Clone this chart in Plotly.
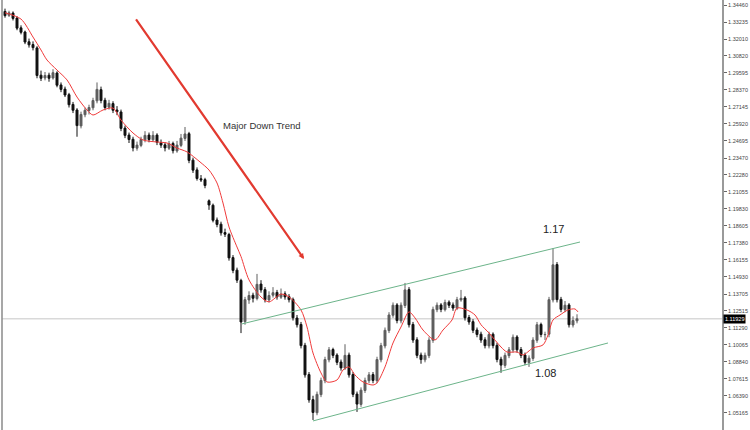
import plotly.graph_objects as go

# ---------------- data ----------------
bar_index = list(range(144))

opens = [1.3400, 1.3372, 1.3388, 1.3352, 1.3282, 1.3252, 1.3182, 1.3162, 1.3138, 1.2942,
         1.2922, 1.2942, 1.2922, 1.2958, 1.2872, 1.2842, 1.2802, 1.2732, 1.2692, 1.2578,
         1.2658, 1.2688, 1.2708, 1.2758, 1.2838, 1.2762, 1.2712, 1.2738, 1.2692, 1.2678,
         1.2562, 1.2512, 1.2482, 1.2418, 1.2438, 1.2478, 1.2512, 1.2478, 1.2512, 1.2458,
         1.2442, 1.2418, 1.2452, 1.2398, 1.2438, 1.2488, 1.2522, 1.2332, 1.2262, 1.2198,
         1.2192, 1.2040, 1.2008, 1.1902, 1.1872, 1.1812, 1.1798, 1.1632, 1.1542, 1.1468,
         1.1172, 1.1328, 1.1362, 1.1338, 1.1442, 1.1402, 1.1328, 1.1362, 1.1382, 1.1348,
         1.1372, 1.1352, 1.1332, 1.1198, 1.1152, 1.1002, 1.0792, 1.0612, 1.0518, 1.0648,
         1.0748, 1.0898, 1.0972, 1.0932, 1.0882, 1.0838, 1.0932, 1.0792, 1.0652, 1.0578,
         1.0678, 1.0748, 1.0792, 1.0748, 1.0898, 1.0998, 1.1108, 1.1218, 1.1292, 1.1178,
         1.1288, 1.1402, 1.1152, 1.1042, 1.0932, 1.0898, 1.0928, 1.1038, 1.1258, 1.1292,
         1.1258, 1.1312, 1.1292, 1.1268, 1.1328, 1.1342, 1.1202, 1.1172, 1.1112, 1.1082,
         1.1042, 1.0998, 1.1082, 1.1002, 1.0902, 1.0858, 1.0928, 1.0968, 1.1062, 1.0972,
         1.0932, 1.0878, 1.0908, 1.1038, 1.1152, 1.1078, 1.1082, 1.1328, 1.1582, 1.1332,
         1.1258, 1.1292, 1.1148, 1.1178]

highs = [1.3420, 1.3405, 1.3400, 1.3365, 1.3300, 1.3262, 1.3205, 1.3185, 1.3150, 1.2975,
         1.2965, 1.2960, 1.2985, 1.2970, 1.2890, 1.2860, 1.2815, 1.2750, 1.2705, 1.2680,
         1.2710, 1.2730, 1.2780, 1.2890, 1.2860, 1.2780, 1.2765, 1.2755, 1.2720, 1.2695,
         1.2580, 1.2530, 1.2500, 1.2465, 1.2500, 1.2540, 1.2530, 1.2540, 1.2525, 1.2480,
         1.2460, 1.2470, 1.2465, 1.2470, 1.2520, 1.2570, 1.2535, 1.2350, 1.2280, 1.2225,
         1.2205, 1.2050, 1.2020, 1.1920, 1.1890, 1.1840, 1.1810, 1.1650, 1.1560, 1.1480,
         1.1350, 1.1390, 1.1380, 1.1515, 1.1470, 1.1420, 1.1390, 1.1420, 1.1400, 1.1410,
         1.1390, 1.1370, 1.1345, 1.1220, 1.1170, 1.1020, 1.0810, 1.0640, 1.0670, 1.0770,
         1.0920, 1.0990, 1.0985, 1.0945, 1.0900, 1.1010, 1.0950, 1.0810, 1.0670, 1.0700,
         1.0770, 1.0810, 1.0810, 1.0920, 1.1020, 1.1130, 1.1240, 1.1310, 1.1305, 1.1310,
         1.1450, 1.1420, 1.1170, 1.1060, 1.0950, 1.0950, 1.1060, 1.1280, 1.1310, 1.1305,
         1.1330, 1.1325, 1.1310, 1.1350, 1.1400, 1.1355, 1.1220, 1.1190, 1.1130, 1.1100,
         1.1060, 1.1100, 1.1095, 1.1020, 1.0920, 1.0950, 1.0990, 1.1080, 1.1075, 1.0990,
         1.0950, 1.0930, 1.1060, 1.1170, 1.1165, 1.1100, 1.1350, 1.1700, 1.1600, 1.1350,
         1.1320, 1.1305, 1.1210, 1.1225]

lows = [1.3355, 1.3360, 1.3335, 1.3265, 1.3235, 1.3165, 1.3140, 1.3120, 1.2920, 1.2900,
        1.2905, 1.2895, 1.2910, 1.2855, 1.2820, 1.2785, 1.2710, 1.2670, 1.2500, 1.2560,
        1.2640, 1.2660, 1.2690, 1.2740, 1.2740, 1.2690, 1.2695, 1.2670, 1.2655, 1.2540,
        1.2490, 1.2455, 1.2395, 1.2400, 1.2425, 1.2460, 1.2460, 1.2465, 1.2440, 1.2420,
        1.2395, 1.2405, 1.2380, 1.2385, 1.2425, 1.2470, 1.2310, 1.2240, 1.2185, 1.2175,
        1.2130, 1.1975, 1.1885, 1.1850, 1.1790, 1.1780, 1.1610, 1.1520, 1.1450, 1.1090,
        1.1150, 1.1300, 1.1310, 1.1325, 1.1380, 1.1310, 1.1310, 1.1345, 1.1330, 1.1335,
        1.1330, 1.1310, 1.1180, 1.1130, 1.0980, 1.0770, 1.0590, 1.0466, 1.0500, 1.0630,
        1.0730, 1.0880, 1.0910, 1.0860, 1.0820, 1.0825, 1.0770, 1.0630, 1.0524, 1.0560,
        1.0660, 1.0730, 1.0730, 1.0730, 1.0880, 1.0980, 1.1090, 1.1200, 1.1160, 1.1160,
        1.1270, 1.1130, 1.1020, 1.0910, 1.0870, 1.0880, 1.0910, 1.1020, 1.1240, 1.1240,
        1.1245, 1.1270, 1.1250, 1.1255, 1.1315, 1.1180, 1.1150, 1.1090, 1.1060, 1.1020,
        1.0980, 1.0980, 1.0980, 1.0880, 1.0805, 1.0840, 1.0910, 1.0950, 1.0950, 1.0910,
        1.0860, 1.0847, 1.0890, 1.1020, 1.1060, 1.1040, 1.1060, 1.1310, 1.1310, 1.1240,
        1.1240, 1.1130, 1.1130, 1.1160]

closes = [1.3370, 1.3390, 1.3350, 1.3280, 1.3250, 1.3180, 1.3160, 1.3140, 1.2940, 1.2920,
          1.2940, 1.2920, 1.2960, 1.2870, 1.2840, 1.2800, 1.2730, 1.2690, 1.2580, 1.2660,
          1.2690, 1.2710, 1.2760, 1.2840, 1.2760, 1.2710, 1.2740, 1.2690, 1.2680, 1.2560,
          1.2510, 1.2480, 1.2420, 1.2440, 1.2480, 1.2510, 1.2480, 1.2510, 1.2460, 1.2440,
          1.2420, 1.2450, 1.2400, 1.2440, 1.2490, 1.2520, 1.2330, 1.2260, 1.2200, 1.2190,
          1.2150, 1.2010, 1.1900, 1.1870, 1.1810, 1.1800, 1.1630, 1.1540, 1.1470, 1.1170,
          1.1330, 1.1360, 1.1340, 1.1440, 1.1400, 1.1330, 1.1360, 1.1380, 1.1350, 1.1370,
          1.1350, 1.1330, 1.1200, 1.1150, 1.1000, 1.0790, 1.0610, 1.0520, 1.0650, 1.0750,
          1.0900, 1.0970, 1.0930, 1.0880, 1.0840, 1.0930, 1.0790, 1.0650, 1.0580, 1.0680,
          1.0750, 1.0790, 1.0750, 1.0900, 1.1000, 1.1110, 1.1220, 1.1290, 1.1180, 1.1290,
          1.1400, 1.1150, 1.1040, 1.0930, 1.0900, 1.0930, 1.1040, 1.1260, 1.1290, 1.1260,
          1.1310, 1.1290, 1.1270, 1.1330, 1.1340, 1.1200, 1.1170, 1.1110, 1.1080, 1.1040,
          1.1000, 1.1080, 1.1000, 1.0900, 1.0860, 1.0930, 1.0970, 1.1060, 1.0970, 1.0930,
          1.0880, 1.0910, 1.1040, 1.1150, 1.1080, 1.1080, 1.1330, 1.1580, 1.1330, 1.1260,
          1.1290, 1.1150, 1.1180, 1.11929]

# moving average
ma_x = [0, 4, 7, 9, 10.5, 13, 15.5, 18, 20.5, 22, 24.5, 27, 29, 32, 34.5, 38, 40.5, 43,
        45.5, 48.75, 51, 53, 54.5, 56, 58, 59, 61, 64, 66, 69, 71, 74, 75.5, 77, 79, 80.5,
        83, 84.5, 86, 87.5, 89.5, 92, 93, 95, 97, 99, 101, 102.5, 104.5, 107.5, 109.5,
        111.75, 113, 115.5, 117.5, 119, 121, 124, 125.5, 128, 129.5, 132, 134.5, 135.75,
        137, 138.75, 140.75, 142.5, 143.25]
ma_y = [1.3390, 1.3345, 1.3216, 1.3123, 1.3051, 1.2979, 1.2908, 1.2785, 1.2692, 1.2656,
        1.2692, 1.2706, 1.2620, 1.2527, 1.2477, 1.2462, 1.2455, 1.2419, 1.2391, 1.2319,
        1.2261, 1.2168, 1.2024, 1.1852, 1.1708, 1.1640, 1.1472, 1.1349, 1.1314, 1.1370,
        1.1350, 1.1256, 1.1134, 1.0947, 1.0804, 1.0739, 1.0753, 1.0825, 1.0847, 1.0789,
        1.0739, 1.0717, 1.0732, 1.0847, 1.1019, 1.1134, 1.1242, 1.1199, 1.1112, 1.1041,
        1.1112, 1.1184, 1.1270, 1.1256, 1.1220, 1.1150, 1.1091, 1.0990, 1.0954, 1.0954,
        1.0933, 1.0983, 1.1005, 1.1076, 1.1184, 1.1220, 1.1256, 1.1263, 1.1242]

# channel lines (start / end points)
upper_x = [59.25, 143.75]
upper_y = [1.1156, 1.1744]
lower_x = [77.0, 150.75]
lower_y = [1.0459, 1.1019]

# trend arrow (tail -> head)
arrow_tail = (32.5, 1.3353)
arrow_head = (74.75, 1.1622)

current_price = 1.11929
current_label = "1.11929"

tick_vals = [1.34460, 1.33235, 1.32010, 1.30820, 1.29595, 1.28370, 1.27145, 1.25920,
             1.24695, 1.23470, 1.22280, 1.21055, 1.19830, 1.18605, 1.17380, 1.16155,
             1.14930, 1.13705, 1.12515, 1.11290, 1.10065, 1.08840, 1.07615, 1.06390,
             1.05165]
tick_text = ["%.5f" % v for v in tick_vals]

# ---------------- figure ----------------
fig = go.Figure()

fig.add_trace(go.Candlestick(
    x=bar_index, open=opens, high=highs, low=lows, close=closes,
    increasing=dict(line=dict(color="#5e5e5e", width=1), fillcolor="#5e5e5e"),
    decreasing=dict(line=dict(color="#111111", width=1), fillcolor="#111111"),
    whiskerwidth=0, showlegend=False, hoverinfo="skip",
))

fig.add_trace(go.Scatter(
    x=ma_x, y=ma_y, mode="lines",
    line=dict(color="#f03a3a", width=1, shape="spline", smoothing=0.8),
    showlegend=False, hoverinfo="skip",
))

for cx, cy in ((upper_x, upper_y), (lower_x, lower_y)):
    fig.add_trace(go.Scatter(
        x=cx, y=cy, mode="lines",
        line=dict(color="#6cb48a", width=1),
        showlegend=False, hoverinfo="skip",
    ))

# current price horizontal line
fig.add_shape(type="line", xref="paper", x0=0, x1=1, yref="y",
              y0=current_price, y1=current_price,
              line=dict(color="#d9d9d9", width=1.5), layer="below")
# left border
fig.add_shape(type="line", xref="paper", x0=0, x1=0, yref="paper", y0=0, y1=1,
              line=dict(color="#8a8a8a", width=1.5))

fig.add_annotation(
    x=arrow_head[0], y=arrow_head[1], ax=arrow_tail[0], ay=arrow_tail[1],
    xref="x", yref="y", axref="x", ayref="y", text="",
    showarrow=True, arrowhead=2, arrowsize=0.5, arrowwidth=2.2,
    arrowcolor="#e23a30",
)

fig.add_annotation(x=64.25, y=1.2584, xref="x", yref="y", text="Major Down Trend",
                   showarrow=False, font=dict(family="Liberation Sans", size=9.5, color="#333333"))
fig.add_annotation(x=137, y=1.1838, xref="x", yref="y", text="1.17",
                   showarrow=False, font=dict(family="Liberation Sans", size=11, color="#222222"))
fig.add_annotation(x=135, y=1.0804, xref="x", yref="y", text="1.08",
                   showarrow=False, font=dict(family="Liberation Sans", size=11, color="#222222"))

fig.add_annotation(x=1, xref="paper", xanchor="left", xshift=1, y=current_price, yref="y",
                   text=current_label, showarrow=False, bgcolor="#000000", borderpad=1,
                   font=dict(family="Liberation Sans", size=5.5, color="#ffffff"))

fig.update_layout(
    width=750, height=430,
    margin=dict(l=2, r=28, t=0, b=0, autoexpand=False),
    paper_bgcolor="white", plot_bgcolor="white",
    xaxis=dict(range=[-0.75, 179.25], visible=False, rangeslider=dict(visible=False),
               showgrid=False, zeroline=False),
    yaxis=dict(range=[1.0394, 1.3482], side="right", showgrid=False, zeroline=False,
               showline=True, linecolor="#9a9a9a", linewidth=2, automargin=False,
               ticks="outside", ticklen=3, tickcolor="#666666",
               tickvals=tick_vals, ticktext=tick_text,
               tickfont=dict(family="Liberation Sans", size=5.5, color="#444444")),
)

fig.write_html("out.html", config={"displayModeBar": False},
               post_script="document.body.style.margin='0';document.body.style.overflow='hidden';")
